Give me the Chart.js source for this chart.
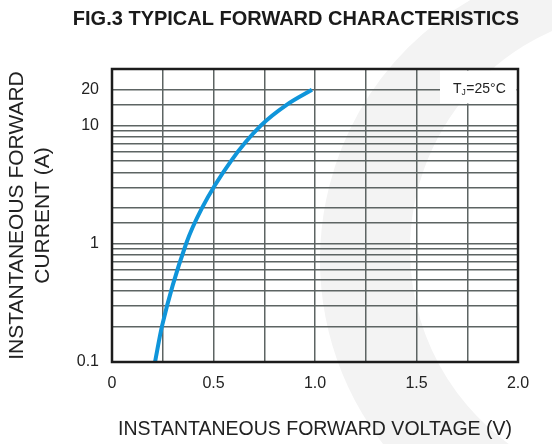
<!DOCTYPE html>
<html>
<head>
<meta charset="utf-8">
<script src="https://cdn.jsdelivr.net/npm/chart.js@4"></script>
<style>
  html, body { margin: 0; padding: 0; background: #fff; }
  #wrap { width: 552px; height: 444px; position: relative; }
</style>
</head>
<body>
<div id="wrap"><canvas id="fwd-chart" width="552" height="444"></canvas></div>
<script>
// forward voltage (V) vs instantaneous forward current (A)
const voltage = [0.212, 0.246, 0.365, 0.443, 0.586, 0.734, 0.862, 0.985];
const current = [0.1, 0.2, 1, 2, 5, 10, 15, 20];

const xTickLabels = [0, 0.5, 1.0, 1.5, 2.0];
const yTickLabels = [0.1, 1, 10, 20];

const chartTitle = "FIG.3 TYPICAL FORWARD CHARACTERISTICS";
const xTitle = "INSTANTANEOUS FORWARD VOLTAGE (V)";
const yTitle = ["INSTANTANEOUS FORWARD", "CURRENT (A)"];

const FONT = "'Liberation Sans', Arial, sans-serif";
const GRID = "#5d6463";

const points = voltage.map((v, i) => ({ x: v, y: current[i] }));

// light watermark behind everything + white background
const watermark = {
  id: "watermark",
  beforeDraw(chart) {
    const ctx = chart.ctx;
    ctx.save();
    ctx.fillStyle = "#fff";
    ctx.fillRect(0, 0, chart.width, chart.height);
    ctx.fillStyle = "#f3f3f3";
    ctx.beginPath();
    ctx.arc(620, 260, 300, 0.58 * Math.PI, 1.42 * Math.PI);
    ctx.arc(650, 250, 240, 1.45 * Math.PI, 0.6 * Math.PI, true);
    ctx.closePath();
    ctx.fill();
    ctx.restore();
  },
};

// frame, main title and the Tj note
const decor = {
  id: "decor",
  afterDraw(chart) {
    const { ctx, chartArea: a } = chart;
    ctx.save();
    ctx.strokeStyle = "#1c1c1c";
    ctx.lineWidth = 2.5;
    ctx.strokeRect(a.left, a.top, a.right - a.left, a.bottom - a.top);

    ctx.fillStyle = "#1a1a1a";
    ctx.font = "bold 20px " + FONT;
    ctx.textAlign = "center";
    ctx.textBaseline = "middle";
    ctx.fillText(chartTitle, 296, 19);
    ctx.restore();
  },
  afterDatasetsDraw(chart) {
    const { ctx, chartArea: a } = chart;
    ctx.save();
    ctx.fillStyle = "#fff";
    ctx.fillRect(440, a.top + 1.5, a.right - 441.5, 33);
    ctx.fillStyle = "#222";
    ctx.textBaseline = "alphabetic";
    ctx.textAlign = "left";
    ctx.font = "14px " + FONT;
    let x = 453;
    ctx.fillText("T", x, 93);
    x += ctx.measureText("T").width;
    ctx.font = "8.5px " + FONT;
    ctx.fillText("J", x, 95);
    x += ctx.measureText("J").width + 0.5;
    ctx.font = "14px " + FONT;
    ctx.fillText("=25°C", x, 93);
    ctx.restore();
  },
};

const data = {
  datasets: [
    {
      data: points,
      borderColor: "#0f95da",
      borderWidth: 4,
      pointRadius: 0,
      showLine: true,
      cubicInterpolationMode: "monotone",
      fill: false,
    },
  ],
};

const options = {
  responsive: false,
  animation: false,
  layout: { padding: { top: 69, right: 34, left: 0, bottom: 0 } },
  plugins: {
    legend: { display: false },
    tooltip: { enabled: false },
  },
  scales: {
    x: {
      type: "linear",
      min: 0,
      max: 2,
      afterFit: (s) => { s.height = 82; },
      grid: { color: GRID, lineWidth: 1.5, drawTicks: false },
      border: { display: false },
      ticks: {
        stepSize: 0.25,
        autoSkip: false,
        maxRotation: 0,
        padding: 12,
        color: "#222",
        font: { family: FONT, size: 16 },
        callback: (v) => {
          const hit = xTickLabels.find((t) => Math.abs(t - v) < 1e-6);
          if (hit === undefined) return "";
          return hit === 0 ? "0" : hit.toFixed(1);
        },
      },
      title: {
        display: true,
        text: xTitle,
        color: "#222",
        font: { family: FONT, size: 19.5, lineHeight: 1.2 },
        padding: { top: 0, bottom: 3 },
      },
    },
    y: {
      type: "logarithmic",
      min: 0.1,
      max: 30,
      afterFit: (s) => { s.width = 112; },
      grid: { color: GRID, lineWidth: 1.5, drawTicks: false },
      border: { display: false },
      ticks: {
        autoSkip: false,
        padding: 13,
        color: "#222",
        font: { family: FONT, size: 16 },
        callback: (v) => {
          const hit = yTickLabels.find((t) => Math.abs(t - v) < 1e-6 * t);
          return hit === undefined ? "" : String(hit);
        },
      },
      title: {
        display: true,
        text: yTitle,
        color: "#222",
        font: { family: FONT, size: 21, lineHeight: 1.2 },
        padding: { top: 5, bottom: 0 },
      },
    },
  },
};

const fwdChart = new Chart(document.getElementById("fwd-chart").getContext("2d"), {
  type: "scatter",
  data: data,
  options: options,
  plugins: [watermark, decor],
});
</script>
</body>
</html>
